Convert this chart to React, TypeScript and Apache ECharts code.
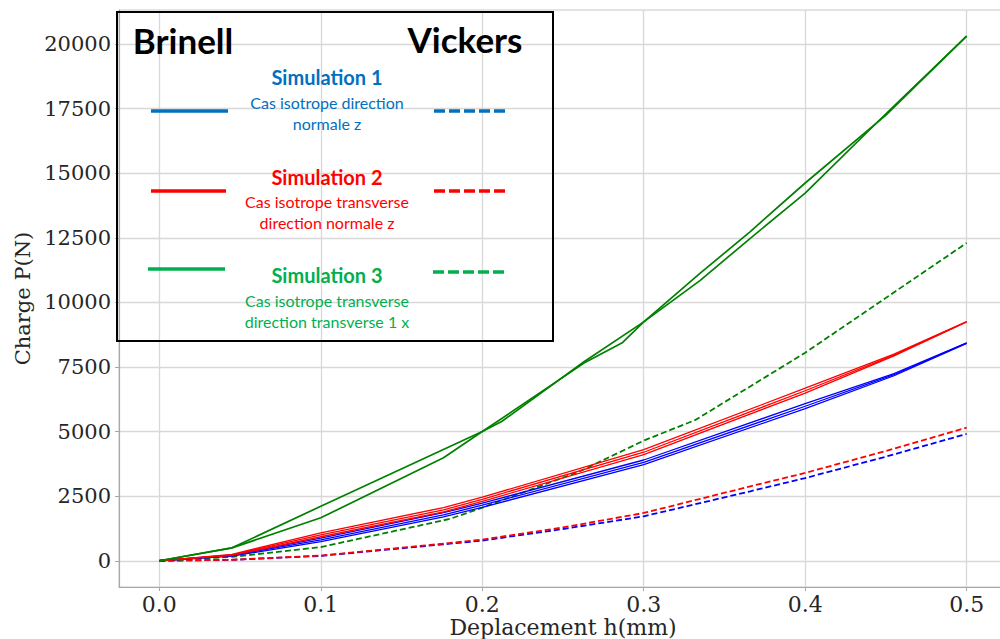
import { useEffect, useRef } from "react";
import * as echarts from "echarts";

const xTickValues = [0, 0.1, 0.2, 0.3, 0.4, 0.5];
const yTickValues = [0, 2500, 5000, 7500, 10000, 12500, 15000, 17500, 20000];

// Brinell (solid) — Simulation 3 (green), two meshes
const brinellSim3A = [
  [0, 0], [0.045, 500], [0.1, 2110], [0.2, 5000], [0.263, 7650], [0.287, 8450],
  [0.3, 9245], [0.335, 11130], [0.366, 12740], [0.4, 14620], [0.45, 17250], [0.5, 20300],
];
const brinellSim3B = [
  [0, 0], [0.045, 500], [0.1, 1663], [0.176, 3984], [0.2, 5000], [0.212, 5388],
  [0.263, 7700], [0.3, 9245], [0.335, 10850], [0.366, 12480], [0.4, 14230], [0.45, 17300], [0.5, 20300],
];
// Brinell (solid) — Simulation 2 (red)
const brinellSim2A = [[0, 0], [0.045, 250], [0.1, 1080], [0.176, 2060], [0.2, 2460], [0.3, 4300], [0.4, 6680], [0.455, 8000], [0.5, 9260]];
const brinellSim2B = [[0, 0], [0.045, 230], [0.1, 1000], [0.176, 1970], [0.2, 2380], [0.3, 4200], [0.4, 6580], [0.455, 7960], [0.5, 9250]];
const brinellSim2C = [[0, 0], [0.045, 210], [0.1, 930], [0.176, 1890], [0.2, 2300], [0.3, 4110], [0.4, 6490], [0.455, 7930], [0.5, 9240]];
// Brinell (solid) — Simulation 1 (blue)
const brinellSim1A = [[0, 0], [0.045, 220], [0.1, 880], [0.176, 1860], [0.2, 2230], [0.3, 3900], [0.4, 6080], [0.455, 7240], [0.5, 8430]];
const brinellSim1B = [[0, 0], [0.045, 200], [0.1, 810], [0.176, 1780], [0.2, 2150], [0.3, 3810], [0.4, 5980], [0.455, 7200], [0.5, 8420]];
const brinellSim1C = [[0, 0], [0.045, 180], [0.1, 740], [0.176, 1700], [0.2, 2070], [0.3, 3720], [0.4, 5890], [0.455, 7160], [0.5, 8410]];
// Vickers (dashed)
const vickersSim3 = [
  [0, 0], [0.045, 150], [0.1, 530], [0.18, 1620], [0.2, 2060], [0.26, 3450], [0.3, 4650],
  [0.332, 5450], [0.4, 8050], [0.46, 10600], [0.5, 12300],
];
const vickersSim2 = [[0, 0], [0.045, 40], [0.1, 200], [0.18, 690], [0.2, 820], [0.25, 1290], [0.3, 1850], [0.366, 2880], [0.4, 3400], [0.45, 4250], [0.5, 5150]];
const vickersSim1 = [[0, 0], [0.045, 35], [0.1, 190], [0.18, 660], [0.2, 780], [0.25, 1230], [0.3, 1720], [0.366, 2690], [0.4, 3200], [0.45, 4030], [0.5, 4910]];

const legendTitles = ["Simulation 1", "Simulation 2", "Simulation 3"];
const legendLines1 = ["Cas isotrope direction", "Cas isotrope transverse", "Cas isotrope transverse"];
const legendLines2 = ["normale z", "direction normale z", "direction transverse 1 x"];
const legendColors = ["#0070C0", "#FF0000", "#00B050"];

const GREEN = "#008000";
const RED = "#ff0000";
const BLUE = "#0000ff";

function solid(data: number[][], color: string, width = 1.6) {
  return {
    type: "line",
    data,
    showSymbol: false,
    symbol: "none",
    silent: true,
    lineStyle: { color, width, type: "solid" },
  };
}
function dashed(data: number[][], color: string, width = 1.8) {
  return {
    type: "line",
    data,
    showSymbol: false,
    symbol: "none",
    silent: true,
    lineStyle: { color, width, type: [6, 3] },
  };
}

export default function App() {
  const ref = useRef<HTMLDivElement>(null);
  useEffect(() => {
    if (!ref.current) return;
    const chart = echarts.init(ref.current, null, { renderer: "svg" });
    const legendY = [
      { title: 77, l1: 102, l2: 123, lineY: 111, dashY: 111, sx1: 151, sx2: 228, dx1: 434, dx2: 505 },
      { title: 177, l1: 201, l2: 222, lineY: 191, dashY: 191, sx1: 151, sx2: 226, dx1: 434, dx2: 505 },
      { title: 275, l1: 300, l2: 321, lineY: 269, dashY: 272, sx1: 148, sx2: 225, dx1: 433, dx2: 504 },
    ];
    const graphics: any[] = [
      {
        type: "rect",
        shape: { x: 117, y: 12, width: 436, height: 329 },
        style: { fill: "none", stroke: "#000", lineWidth: 2 },
        z: 100,
      },
      {
        type: "text", x: 183, y: 40, z: 101,
        style: { text: "Brinell", font: "bold 35px Lato", fill: "#000", align: "center", verticalAlign: "middle" },
      },
      {
        type: "text", x: 465, y: 39, z: 101,
        style: { text: "Vickers", font: "bold 35px Lato", fill: "#000", align: "center", verticalAlign: "middle" },
      },
    ];
    legendY.forEach((p, i) => {
      const c = legendColors[i];
      graphics.push(
        { type: "text", x: 327, y: p.title, z: 101, style: { text: legendTitles[i], font: "bold 20px Lato", fill: c, align: "center", verticalAlign: "middle" } },
        { type: "text", x: 327, y: p.l1, z: 101, style: { text: legendLines1[i], font: "16px Lato", fill: c, align: "center", verticalAlign: "middle" } },
        { type: "text", x: 327, y: p.l2, z: 101, style: { text: legendLines2[i], font: "16px Lato", fill: c, align: "center", verticalAlign: "middle" } },
        { type: "line", z: 101, shape: { x1: p.sx1, y1: p.lineY, x2: p.sx2, y2: p.lineY }, style: { stroke: c, lineWidth: 3.5 } },
        { type: "line", z: 101, shape: { x1: p.dx1, y1: p.dashY, x2: p.dx2, y2: p.dashY }, style: { stroke: c, lineWidth: 3.5, lineDash: [11, 4] } },
      );
    });

    const option: any = {
      animation: false,
      backgroundColor: "#ffffff",
      grid: {
        left: 119, top: 10, width: 888, height: 577,
        outerBoundsMode: "none",
        containLabel: false,
        show: true, borderColor: "#c8c8c8", borderWidth: 1, backgroundColor: "transparent",
      },
      xAxis: {
        type: "value",
        min: -0.025,
        max: 0.525,
        name: "Deplacement h(mm)",
        nameLocation: "middle",
        nameGap: 28,
        nameMoveOverlap: false,
        nameTextStyle: { fontFamily: "DejaVu Serif", fontSize: 22, color: "#262626", verticalAlign: "top", lineHeight: 24 },
        axisLine: { show: true, onZero: false, lineStyle: { color: "#a8a8a8", width: 1.2 } },
        axisTick: { show: true, customValues: xTickValues, length: 4, lineStyle: { color: "#a8a8a8" } },
        axisLabel: {
          customValues: xTickValues,
          formatter: (v: number) => v.toFixed(1),
          fontFamily: "DejaVu Serif", fontSize: 22, color: "#262626", margin: 6,
        },
        splitLine: { show: true, lineStyle: { color: "#d8d8d8", width: 1.3 } },
      },
      yAxis: {
        type: "value",
        min: -1015,
        max: 21315,
        name: "Charge P(N)",
        nameLocation: "middle",
        nameGap: 86,
        nameMoveOverlap: false,
        nameTextStyle: { fontFamily: "DejaVu Serif", fontSize: 21, color: "#262626" },
        axisLine: { show: true, onZero: false, lineStyle: { color: "#a8a8a8", width: 1.2 } },
        axisTick: { show: true, customValues: yTickValues, length: 4, lineStyle: { color: "#a8a8a8" } },
        axisLabel: {
          customValues: yTickValues,
          formatter: (v: number) => String(Math.round(v)),
          fontFamily: "DejaVu Serif", fontSize: 21, color: "#262626", margin: 8,
        },
        splitLine: { show: true, lineStyle: { color: "#d8d8d8", width: 1.3 } },
      },
      series: [
        dashed(vickersSim1, BLUE),
        dashed(vickersSim2, RED),
        dashed(vickersSim3, GREEN),
        solid(brinellSim1A, BLUE, 1.3),
        solid(brinellSim1B, BLUE, 1.3),
        solid(brinellSim1C, BLUE, 1.3),
        solid(brinellSim2A, RED, 1.3),
        solid(brinellSim2B, RED, 1.3),
        solid(brinellSim2C, RED, 1.3),
        solid(brinellSim3A, GREEN, 1.7),
        solid(brinellSim3B, GREEN, 1.7),
      ],
      graphic: graphics,
    };
    chart.setOption(option);
    return () => chart.dispose();
  }, []);
  return (
    <div
      ref={ref}
      style={{ position: "fixed", left: 0, top: 0, width: 1000, height: 639, background: "#fff" }}
    />
  );
}
